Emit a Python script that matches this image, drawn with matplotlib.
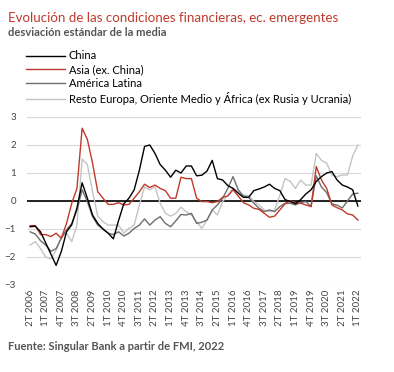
import matplotlib
matplotlib.use('Agg')

import matplotlib.pyplot as plt

# Trimestres: 2T 2006 ... 1T 2022 (64 datos)
quarters = [f'{(q % 4) + 1}T {2006 + q // 4}' for q in range(1, 65)]
tick_every = 3

china = [-0.92, -0.9, -1.1, -1.5, -1.9, -2.3, -1.8, -1.1, -0.85, -0.25,
         0.65, 0.1, -0.5, -0.8, -1.0, -1.15, -1.35, -0.7, -0.1, 0.1,
         0.4, 1.1, 1.95, 2.0, 1.7, 1.3, 1.1, 0.85, 1.1, 1.0,
         1.25, 1.25, 0.9, 0.92, 1.07, 1.45, 0.8, 0.75, 0.55, 0.45,
         0.28, 0.13, 0.13, 0.37, 0.43, 0.5, 0.6, 0.45, 0.37, 0.05,
         -0.02, -0.1, 0.05, 0.25, 0.4, 0.7, 0.87, 1.0, 1.05, 0.75,
         0.57, 0.5, 0.4, -0.18]
asia = [-0.88, -0.88, -1.2, -1.2, -1.27, -1.15, -1.33, -0.8, -0.08, 0.45,
        2.6, 2.2, 1.35, 0.33, 0.1, -0.12, -0.12, -0.06, -0.14, -0.12,
        0.1, 0.33, 0.6, 0.48, 0.57, 0.45, 0.37, 0.1, 0.1, 0.85,
        0.8, 0.8, 0.1, -0.02, -0.02, -0.06, -0.02, 0.13, 0.18, 0.4,
        0.18, -0.06, -0.14, -0.26, -0.3, -0.44, -0.58, -0.54, -0.32, -0.1,
        0.0, -0.06, -0.08, -0.14, -0.2, 1.23, 0.75, 0.45, -0.14, -0.24,
        -0.32, -0.46, -0.5, -0.68]
latam = [-1.1, -1.18, -1.42, -1.57, -1.8, -1.7, -1.33, -1.03, -0.8, -0.32,
         0.4, -0.02, -0.56, -0.86, -1.0, -1.15, -1.2, -1.1, -1.25, -1.15,
         -0.98, -0.86, -0.64, -0.86, -0.68, -0.56, -0.8, -0.92, -0.71, -0.48,
         -0.5, -0.44, -0.8, -0.76, -0.68, -0.32, -0.14, 0.1, 0.45, 0.87,
         0.4, 0.18, 0.13, -0.08, -0.26, -0.38, -0.32, -0.38, -0.2, -0.08,
         -0.08, -0.14, -0.06, -0.02, -0.2, 0.9, 0.5, 0.3, -0.1, -0.15,
         -0.25, 0.0, 0.25, 0.28]
resto = [-1.57, -1.45, -1.7, -2.0, -2.07, -1.75, -1.27, -1.15, -1.45, -0.86,
         1.5, 1.3, 0.33, -0.54, -0.74, -0.86, -0.86, -0.86, -1.15, -0.98,
         -0.86, -0.14, 0.5, 0.4, 0.5, -0.08, -0.44, -0.54, -0.44, -0.22,
         -0.38, -0.5, -0.74, -0.98, -0.68, -0.32, -0.5, -0.02, 0.2, 0.45,
         0.33, 0.2, 0.2, -0.02, -0.14, -0.32, -0.38, -0.32, 0.2, 0.8,
         0.7, 0.45, 0.75, 0.57, 0.57, 1.7, 1.45, 1.35, 0.93, 0.87,
         0.93, 0.93, 1.6, 2.0]

series = [
    ('China', china, '#000000'),
    ('Asia (ex. China)', asia, '#c0392b'),
    ('América Latina', latam, '#6e6e6e'),
    ('Resto Europa, Oriente Medio y África (ex Rusia y Ucrania)', resto, '#c4c4c4'),
]

plt.rcParams['font.family'] = ['Lato', 'DejaVu Sans']

fig = plt.figure(figsize=(3.94, 3.72), dpi=100)
ax = fig.add_axes([27 / 394, 1 - 285 / 372, 334 / 394, 168 / 372])

x = list(range(len(quarters)))
for name, vals, color in series[::-1]:
    ax.plot(x, vals, color=color, linewidth=1.0, label=name)

ax.axhline(0, color='black', linewidth=1.2, zorder=1)
ax.set_ylim(-3, 3)
ax.set_xlim(-0.6, 63.6)
ax.set_yticks(range(-3, 4))
ax.grid(axis='y', color='#d9d9d9', linewidth=0.8)
ax.set_axisbelow(True)
for s in ax.spines.values():
    s.set_visible(False)
ax.tick_params(length=0, labelsize=7, colors='#444444')
ax.tick_params(axis='y', pad=8)
ax.set_xticks(x[::tick_every])
ax.set_xticklabels(quarters[::tick_every], rotation=90)

handles, labels = ax.get_legend_handles_labels()
fig.legend(handles[::-1], labels[::-1], loc='upper left',
           bbox_to_anchor=(22 / 394, 1 - 46 / 372), frameon=False,
           fontsize=8, handlelength=3.5, handletextpad=0.3,
           labelspacing=0.25, borderaxespad=0)

fig.text(8 / 394, 1 - 18 / 372, 'Evolución de las condiciones financieras, ec. emergentes',
         color='#c0392b', fontsize=9.6, va='center')
fig.text(8 / 394, 1 - 33 / 372, 'desviación estándar de la media',
         color='#555555', fontsize=8, fontweight='bold', va='center')
fig.text(8 / 394, 1 - 347 / 372, 'Fuente: Singular Bank a partir de FMI, 2022',
         color='#555555', fontsize=8, fontweight='bold', va='center')

fig.savefig('out.png', dpi=100)
